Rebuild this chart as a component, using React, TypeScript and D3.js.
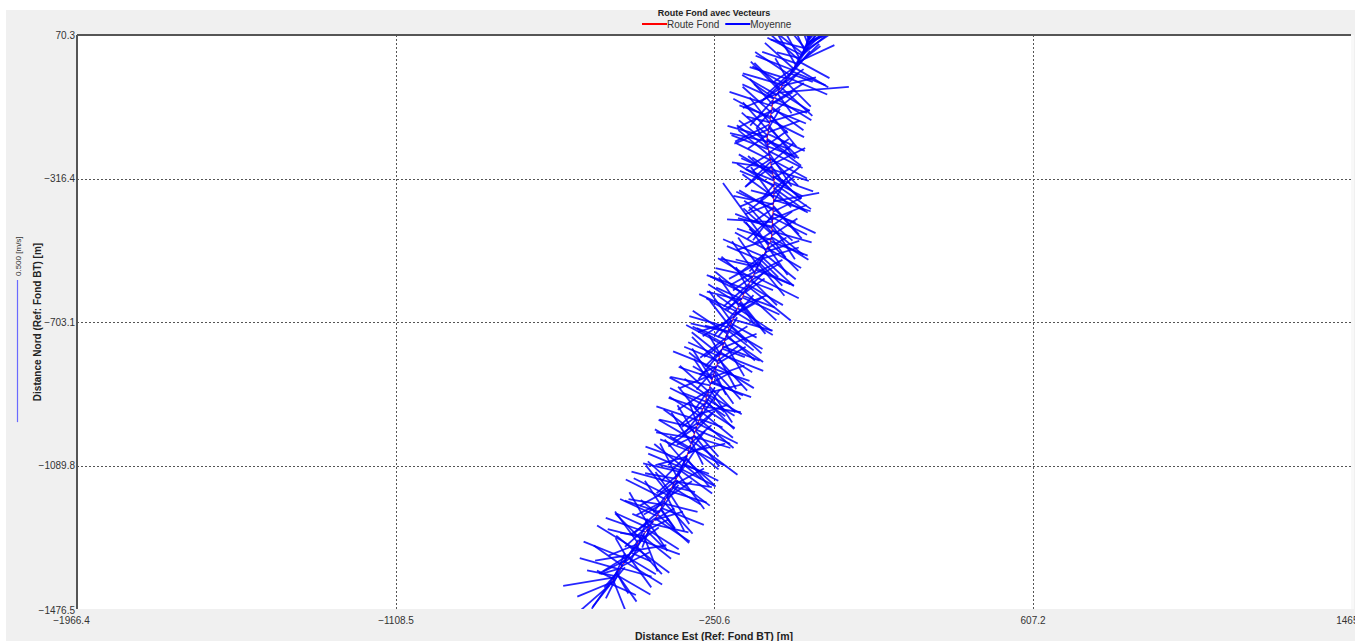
import React, { useRef, useEffect } from "react";
import * as d3 from "d3";

// tick values printed on the axes
const eastTicks = [-1966.4, -1108.5, -250.6, 607.2, 1465.0];
const northTicks = [70.3, -316.4, -703.1, -1089.8, -1476.5];

const chartTitle = "Route Fond avec Vecteurs";
const eastTitle = "Distance Est (Ref: Fond BT) [m]";
const northTitle = "Distance Nord (Ref: Fond BT) [m]";

const legendItems = [
  { label: "Route Fond", color: "#ff0000" },
  { label: "Moyenne", color: "#0000ff" },
];

// ensembles: [east m, north m, vEast m/s, vNorth m/s]
const southReach: number[][] = [
  [-532, -1412, -0.16, -0.14], [-527, -1405, -0.12, -0.05], [-522, -1399, 0.06, -0.15],
  [-519, -1391, -0.18, -0.03], [-514, -1384, 0.12, -0.07], [-511, -1376, -0.09, -0.13],
  [-505, -1370, -0.14, 0.04], [-501, -1362, 0.10, 0.05], [-496, -1356, -0.06, -0.12],
  [-490, -1349, 0.13, -0.08], [-487, -1341, -0.15, 0.06], [-481, -1334, 0.08, -0.11],
  [-476, -1328, -0.11, -0.07], [-471, -1320, 0.12, 0.02], [-466, -1313, -0.13, 0.08],
  [-460, -1306, 0.09, -0.10], [-456, -1298, -0.08, 0.11], [-450, -1291, 0.14, -0.05],
  [-445, -1284, -0.12, 0.03], [-441, -1276, 0.05, -0.13], [-435, -1269, -0.14, 0.05],
  [-430, -1262, 0.11, -0.07], [-425, -1254, -0.07, 0.12], [-419, -1247, 0.13, -0.03],
  [-414, -1240, -0.10, -0.09], [-408, -1233, 0.12, -0.08], [-404, -1226, -0.13, 0.06],
  [-400, -1218, 0.07, 0.10], [-397, -1211, -0.09, -0.08], [-393, -1204, 0.15, -0.06],
  [-389, -1196, -0.12, 0.02], [-385, -1189, 0.10, -0.11], [-381, -1181, -0.14, 0.07],
  [-377, -1174, 0.06, -0.12], [-373, -1166, -0.08, 0.10], [-370, -1159, 0.13, -0.04],
  [-366, -1152, -0.11, -0.06], [-362, -1144, 0.11, 0.06], [-358, -1137, -0.15, 0.04],
  [-354, -1129, 0.12, -0.09], [-350, -1122, -0.06, 0.12], [-346, -1115, 0.09, -0.12],
  [-342, -1107, -0.13, 0.03], [-338, -1100, 0.12, -0.06], [-335, -1093, -0.10, 0.08],
  [-331, -1085, 0.12, -0.06], [-328, -1077, -0.14, 0.05], [-325, -1070, 0.08, -0.10],
  [-323, -1062, -0.09, -0.09], [-320, -1054, 0.13, 0.03], [-318, -1046, -0.12, 0.07],
  [-315, -1039, 0.10, -0.08], [-312, -1031, -0.07, 0.11], [-310, -1023, 0.16, -0.12],
  [-307, -1016, -0.13, 0.02], [-305, -1008, 0.09, -0.11], [-302, -1000, -0.11, 0.08],
  [-299, -993, 0.12, -0.05], [-297, -985, -0.10, -0.07], [-294, -977, 0.14, -0.07],
  [-291, -969, -0.15, 0.05], [-289, -962, 0.07, 0.10], [-286, -954, -0.08, 0.10],
  [-284, -946, 0.11, -0.09], [-281, -938, -0.12, 0.04], [-278, -931, 0.13, -0.02],
  [-276, -923, -0.09, -0.08], [-273, -915, 0.10, -0.10],
];

const midReach: number[][] = [
  [-271, -906, -0.13, 0.07], [-268, -898, 0.12, -0.07], [-266, -890, -0.10, 0.09],
  [-263, -882, 0.08, -0.12], [-261, -874, -0.14, 0.03], [-258, -867, 0.14, -0.05],
  [-256, -859, -0.07, 0.11], [-253, -851, 0.11, 0.04], [-251, -843, -0.12, -0.05],
  [-248, -835, 0.09, -0.10], [-246, -828, -0.15, 0.06], [-243, -820, 0.13, -0.08],
  [-241, -812, -0.09, 0.09], [-238, -804, 0.10, -0.11], [-236, -796, -0.11, 0.05],
  [-233, -789, 0.15, -0.06], [-231, -781, -0.08, -0.10], [-228, -773, 0.12, 0.05],
  [-226, -765, -0.13, 0.07], [-223, -757, 0.07, -0.12], [-221, -750, -0.10, 0.04],
  [-218, -742, 0.13, -0.09], [-216, -734, -0.12, 0.08], [-213, -726, 0.09, -0.07],
  [-210, -718, -0.14, 0.04], [-207, -711, 0.11, -0.10], [-203, -703, -0.08, 0.11],
  [-200, -696, 0.14, -0.04], [-197, -688, -0.11, -0.07], [-194, -681, 0.10, 0.06],
  [-191, -674, -0.13, 0.06], [-187, -666, 0.12, -0.08], [-184, -659, -0.07, 0.10],
  [-181, -651, 0.09, -0.11], [-178, -644, -0.12, 0.03], [-174, -637, 0.13, -0.06],
  [-171, -629, -0.10, 0.08], [-167, -622, 0.11, -0.10], [-163, -615, -0.14, 0.05],
  [-159, -607, 0.15, -0.12], [-156, -600, -0.09, -0.08], [-152, -592, 0.10, 0.06],
  [-148, -585, -0.12, 0.07], [-145, -578, 0.16, -0.08], [-141, -570, -0.08, 0.11],
  [-137, -563, 0.12, -0.05], [-134, -555, -0.13, 0.03], [-130, -548, 0.09, -0.11],
  [-126, -541, -0.11, -0.06], [-122, -533, 0.13, 0.04], [-119, -526, -0.14, 0.06],
  [-115, -519, 0.11, -0.09], [-111, -511, -0.07, 0.10], [-108, -504, 0.12, -0.07],
  [-104, -497, -0.16, 0.22], [-100, -489, 0.10, -0.10], [-97, -482, -0.12, 0.04],
  [-96, -474, 0.13, -0.08], [-95, -466, -0.10, 0.09], [-95, -458, 0.14, -0.04],
  [-94, -450, -0.13, 0.05], [-94, -442, 0.08, -0.12], [-93, -434, -0.16, 0.01],
  [-93, -426, 0.12, 0.05], [-92, -418, -0.09, -0.08], [-92, -410, 0.15, -0.07],
  [-91, -402, -0.12, 0.07], [-91, -394, 0.10, -0.11], [-91, -386, -0.14, 0.03],
  [-90, -378, 0.16, 0.03], [-90, -370, -0.08, 0.11], [-90, -362, 0.12, -0.06],
  [-89, -354, -0.12, -0.05], [-89, -346, 0.09, 0.08], [-89, -338, -0.13, 0.08],
  [-89, -330, 0.13, -0.09], [-89, -322, -0.10, 0.04],
];

const northReach: number[][] = [
  [-91, -313, 0.14, -0.05], [-92, -305, -0.12, 0.07], [-94, -296, 0.10, -0.10],
  [-95, -288, -0.14, 0.02], [-97, -280, 0.12, 0.06], [-98, -271, -0.09, -0.09],
  [-100, -263, 0.13, -0.07], [-101, -255, -0.11, 0.09], [-103, -246, 0.08, -0.12],
  [-104, -238, -0.13, 0.05], [-106, -230, 0.11, -0.04], [-107, -221, -0.10, 0.08],
  [-108, -213, 0.12, -0.09], [-107, -205, -0.14, 0.04], [-106, -196, 0.13, -0.06],
  [-104, -188, -0.09, 0.10], [-103, -180, 0.10, -0.10], [-102, -171, -0.12, -0.06],
  [-100, -163, 0.14, 0.04], [-99, -155, -0.13, 0.07], [-98, -146, 0.09, -0.11],
  [-97, -138, -0.10, 0.09], [-95, -130, 0.12, -0.05], [-94, -121, -0.15, 0.05],
  [-93, -113, 0.11, 0.07], [-92, -105, -0.08, -0.09], [-88, -98, 0.13, -0.08],
  [-83, -91, -0.12, 0.07], [-79, -85, 0.25, 0.02], [-75, -78, -0.10, 0.10],
  [-70, -71, 0.11, -0.10], [-66, -64, -0.14, 0.04], [-61, -57, 0.09, 0.11],
  [-57, -51, -0.09, -0.08], [-53, -44, 0.14, -0.06], [-48, -37, -0.12, 0.08],
  [-44, -30, 0.10, 0.10], [-39, -24, -0.13, 0.05], [-35, -17, 0.12, -0.07],
  [-31, -10, -0.07, 0.12], [-26, -3, 0.13, 0.06], [-22, 3, -0.10, 0.09],
  [-18, 10, 0.08, 0.12], [-15, 17, -0.12, 0.06], [-11, 24, 0.12, 0.08],
  [-8, 31, -0.06, 0.13], [-4, 38, 0.10, 0.11], [-1, 45, 0.03, 0.14],
  [3, 52, 0.13, 0.05], [6, 59, -0.07, 0.12], [9, 66, 0.09, 0.13],
  [12, 73, -0.04, 0.10],
];

// the in-between ensembles (not on the bottom-track line list)
const southFill: number[][] = [
  [-530, -1408, 0.09, -0.04], [-524, -1402, -0.07, -0.09], [-521, -1395, 0.04, 0.09],
  [-516, -1388, -0.10, 0.02], [-513, -1380, 0.07, -0.10], [-508, -1373, -0.05, -0.06],
  [-503, -1366, 0.11, -0.03], [-498, -1359, -0.10, 0.07], [-493, -1352, 0.05, 0.08],
  [-488, -1345, -0.08, -0.04], [-484, -1337, 0.10, -0.06], [-479, -1331, -0.12, -0.02],
  [-473, -1324, 0.06, 0.07], [-468, -1317, -0.06, 0.05], [-463, -1310, 0.12, -0.09],
  [-458, -1302, -0.10, -0.04], [-453, -1295, 0.07, 0.05], [-448, -1288, -0.09, 0.09],
  [-443, -1280, 0.10, -0.08], [-438, -1272, -0.05, -0.10], [-433, -1265, 0.08, 0.04],
  [-428, -1258, -0.11, 0.05], [-422, -1251, 0.06, -0.09], [-417, -1243, -0.07, 0.03],
  [-411, -1237, 0.10, 0.03], [-406, -1230, -0.09, -0.06], [-402, -1222, 0.11, -0.10],
  [-399, -1215, -0.12, 0.04], [-395, -1207, 0.05, -0.07], [-391, -1200, -0.06, 0.09],
  [-387, -1192, 0.12, -0.03], [-383, -1185, -0.10, -0.05], [-379, -1178, 0.09, 0.06],
  [-375, -1170, -0.12, 0.06], [-371, -1163, 0.07, -0.11], [-368, -1155, -0.06, -0.08],
  [-364, -1148, 0.10, -0.06], [-360, -1140, -0.09, 0.08], [-356, -1133, 0.13, -0.02],
  [-352, -1126, -0.11, 0.02], [-348, -1118, 0.06, 0.09], [-344, -1111, -0.08, -0.07],
  [-340, -1104, 0.11, -0.08], [-336, -1096, -0.12, 0.05], [-333, -1089, 0.09, -0.03],
  [-330, -1081, -0.07, 0.08], [-327, -1073, 0.10, -0.09], [-324, -1066, -0.11, -0.03],
  [-321, -1058, 0.06, 0.08], [-319, -1050, -0.10, 0.04], [-316, -1043, 0.12, -0.06],
  [-313, -1035, -0.08, -0.07], [-311, -1027, 0.07, 0.06], [-308, -1020, -0.12, 0.07],
  [-306, -1012, 0.13, -0.04], [-303, -1004, -0.06, 0.10], [-300, -997, 0.08, -0.09],
  [-298, -989, -0.13, 0.03], [-295, -981, 0.06, 0.05], [-292, -973, -0.09, -0.06],
  [-290, -966, 0.12, -0.10], [-287, -958, -0.11, 0.07], [-285, -950, 0.09, 0.03],
  [-282, -942, -0.07, -0.09], [-279, -935, 0.11, -0.07], [-277, -927, -0.12, 0.06],
  [-274, -919, 0.07, -0.05],
];

const midFill: number[][] = [
  [-272, -910, 0.10, -0.06], [-269, -902, -0.08, 0.06], [-267, -894, 0.12, 0.03],
  [-264, -886, -0.11, -0.07], [-262, -878, 0.09, -0.09], [-259, -871, -0.06, 0.09],
  [-257, -863, 0.11, -0.05], [-254, -855, -0.12, 0.04], [-252, -847, 0.07, -0.10],
  [-249, -839, -0.09, 0.07], [-247, -831, 0.12, -0.04], [-244, -824, -0.07, -0.08],
  [-242, -816, 0.10, 0.06], [-239, -808, -0.12, 0.05], [-237, -800, 0.06, -0.11],
  [-234, -792, -0.10, 0.08], [-232, -785, 0.11, -0.07], [-229, -777, -0.06, -0.06],
  [-227, -769, 0.13, -0.05], [-224, -761, -0.11, 0.06], [-222, -753, 0.08, 0.05],
  [-219, -746, -0.09, -0.07], [-217, -738, 0.10, -0.09], [-214, -730, -0.13, 0.03],
  [-212, -722, 0.12, -0.07], [-208, -715, -0.07, 0.09], [-205, -707, 0.09, -0.05],
  [-202, -700, -0.12, -0.04], [-198, -692, 0.07, 0.08], [-195, -685, -0.10, 0.06],
  [-192, -677, 0.13, -0.08], [-189, -670, -0.08, -0.09], [-186, -662, 0.10, 0.04],
  [-182, -655, -0.11, 0.07], [-179, -648, 0.08, -0.10], [-176, -641, -0.09, 0.04],
  [-172, -633, 0.11, -0.04], [-169, -626, -0.12, 0.06], [-165, -618, 0.07, 0.07],
  [-161, -611, -0.07, -0.08], [-157, -604, 0.12, -0.07], [-154, -596, -0.10, 0.09],
  [-150, -589, 0.09, -0.09], [-147, -581, -0.13, 0.03], [-143, -574, 0.10, 0.05],
  [-139, -566, -0.09, -0.05], [-135, -559, 0.13, -0.06], [-132, -552, -0.07, 0.10],
  [-128, -544, 0.08, -0.08], [-124, -537, -0.12, 0.05], [-120, -530, 0.11, -0.10],
  [-117, -522, -0.08, -0.06], [-113, -515, 0.12, 0.04], [-110, -508, -0.11, 0.06],
  [-106, -500, 0.07, -0.10], [-102, -493, -0.09, 0.08], [-98, -486, 0.13, -0.05],
  [-96, -478, -0.12, -0.04], [-95, -470, 0.09, 0.06], [-95, -462, -0.08, 0.09],
  [-94, -454, 0.11, -0.09], [-94, -446, -0.12, 0.03], [-93, -438, 0.07, -0.06],
  [-93, -430, -0.10, 0.07], [-92, -422, 0.12, -0.06], [-92, -414, -0.07, -0.09],
  [-91, -406, 0.10, 0.05], [-91, -398, -0.13, 0.06], [-91, -390, 0.09, -0.10],
  [-90, -382, -0.10, -0.04], [-90, -374, 0.13, -0.04], [-90, -366, -0.11, 0.08],
  [-89, -358, 0.07, 0.06], [-89, -350, -0.09, -0.07], [-89, -342, 0.11, -0.08],
  [-89, -334, -0.12, 0.05], [-89, -326, 0.10, -0.05], [-90, -317, -0.09, 0.08],
];

const northFill: number[][] = [
  [-92, -309, 0.10, -0.08], [-93, -300, -0.11, 0.05], [-95, -292, 0.13, -0.04],
  [-96, -284, -0.09, -0.07], [-98, -275, 0.08, 0.07], [-99, -267, -0.12, 0.06],
  [-101, -259, 0.10, -0.10], [-102, -250, -0.08, -0.05], [-104, -242, 0.12, -0.06],
  [-105, -234, -0.11, 0.08], [-107, -226, 0.07, 0.05], [-108, -217, -0.13, 0.03],
  [-108, -209, 0.10, -0.07], [-107, -200, -0.09, 0.08], [-105, -192, 0.11, 0.04],
  [-104, -184, -0.12, -0.05], [-102, -175, 0.08, -0.10], [-101, -167, -0.07, 0.09],
  [-100, -159, 0.12, -0.06], [-98, -150, -0.11, 0.04], [-97, -142, 0.09, 0.07],
  [-96, -134, -0.12, -0.06], [-94, -125, 0.11, -0.08], [-93, -117, -0.08, 0.09],
  [-92, -109, 0.12, -0.04], [-90, -101, -0.11, 0.05], [-85, -94, 0.08, 0.08],
  [-81, -88, -0.12, -0.05], [-77, -81, 0.11, -0.07], [-73, -74, -0.09, 0.09],
  [-68, -67, 0.12, 0.03], [-63, -60, -0.11, 0.06], [-59, -54, 0.09, -0.09],
  [-55, -47, -0.13, 0.04], [-50, -40, 0.07, 0.10], [-46, -34, -0.08, -0.07],
  [-42, -27, 0.12, -0.05], [-37, -20, -0.10, 0.09], [-33, -13, 0.09, 0.07],
  [-29, -6, -0.12, 0.04], [-24, 0, 0.11, -0.06], [-20, 7, -0.06, 0.11],
  [-16, 14, 0.11, 0.09], [-13, 21, -0.10, 0.08], [-9, 28, 0.05, 0.12],
  [-6, 35, -0.12, 0.03], [-2, 42, 0.12, 0.07], [1, 49, -0.05, 0.13],
  [5, 56, 0.08, 0.11], [8, 63, -0.10, 0.07],
];

// short vectors crowding the middle of the band
const coreSouth: number[][] = [
  [-529, -1410, 0.05, 0.06], [-520, -1396, -0.06, 0.03], [-512, -1381, 0.04, -0.07],
  [-503, -1367, -0.07, -0.02], [-494, -1353, 0.06, 0.05], [-485, -1339, -0.04, 0.07],
  [-474, -1325, 0.07, -0.03], [-463, -1310, -0.05, -0.06], [-453, -1294, 0.03, 0.08],
  [-442, -1279, -0.08, 0.01], [-432, -1265, 0.06, -0.06], [-421, -1250, -0.03, -0.08],
  [-411, -1236, 0.07, 0.04], [-402, -1221, -0.06, 0.05], [-394, -1206, 0.05, -0.07],
  [-386, -1191, -0.07, -0.04], [-378, -1176, 0.04, 0.06], [-370, -1161, -0.05, 0.07],
  [-363, -1146, 0.08, -0.02], [-355, -1131, -0.06, -0.05], [-347, -1117, 0.03, 0.07],
  [-339, -1102, -0.08, 0.02], [-332, -1087, 0.06, -0.05], [-326, -1072, -0.04, -0.07],
  [-321, -1057, 0.07, 0.03], [-316, -1042, -0.07, 0.04], [-311, -1026, 0.04, -0.08],
  [-305, -1011, -0.06, -0.03], [-300, -995, 0.06, 0.06], [-295, -980, -0.03, 0.08],
  [-289, -964, 0.08, -0.03], [-284, -948, -0.07, -0.05], [-279, -933, 0.04, 0.07],
  [-274, -917, -0.08, 0.03],
];

const coreMid: number[][] = [
  [-269, -900, 0.06, -0.06], [-264, -885, -0.05, -0.07], [-259, -869, 0.07, 0.04],
  [-254, -853, -0.07, 0.04], [-249, -838, 0.04, -0.08], [-244, -822, -0.06, -0.03],
  [-239, -806, 0.07, 0.05], [-234, -791, -0.04, 0.07], [-229, -775, 0.08, -0.03],
  [-224, -759, -0.07, -0.05], [-219, -744, 0.04, 0.07], [-214, -728, -0.08, 0.02],
  [-208, -713, 0.06, -0.06], [-202, -698, -0.05, -0.06], [-195, -684, 0.07, 0.04],
  [-189, -669, -0.07, 0.05], [-182, -653, 0.05, -0.07], [-175, -639, -0.06, -0.04],
  [-168, -624, 0.07, 0.05], [-161, -609, -0.04, 0.07], [-153, -594, 0.08, -0.03],
  [-146, -580, -0.07, -0.05], [-139, -565, 0.04, 0.07], [-131, -550, -0.08, 0.02],
  [-124, -536, 0.06, -0.06], [-117, -521, -0.05, -0.06], [-109, -506, 0.07, 0.04],
  [-102, -491, -0.07, 0.05], [-96, -476, 0.05, -0.07], [-95, -460, -0.06, -0.04],
  [-94, -444, 0.07, 0.05], [-93, -428, -0.04, 0.07], [-92, -412, 0.08, -0.03],
  [-91, -396, -0.07, -0.05], [-90, -380, 0.04, 0.07], [-90, -364, -0.08, 0.02],
  [-89, -348, 0.06, -0.06], [-89, -332, -0.05, -0.06],
];

const coreNorth: number[][] = [
  [-91, -315, 0.07, 0.04], [-94, -298, -0.07, 0.05], [-97, -282, 0.05, -0.07],
  [-100, -265, -0.06, -0.04], [-103, -248, 0.07, 0.05], [-106, -232, -0.04, 0.07],
  [-108, -215, 0.08, -0.03], [-106, -198, -0.07, -0.05], [-104, -182, 0.04, 0.07],
  [-101, -165, -0.08, 0.02], [-98, -148, 0.06, -0.06], [-96, -132, -0.05, -0.06],
  [-93, -115, 0.07, 0.04], [-89, -100, -0.07, 0.05], [-80, -87, 0.05, -0.07],
  [-72, -73, -0.06, -0.04], [-63, -60, 0.07, 0.05], [-55, -46, -0.04, 0.07],
  [-46, -33, 0.08, -0.03], [-37, -19, -0.07, -0.05], [-28, -5, 0.04, 0.07],
  [-20, 8, -0.08, 0.02], [-13, 21, 0.06, 0.06], [-6, 35, -0.05, 0.06],
  [1, 48, 0.07, 0.04], [7, 61, -0.03, 0.08],
];

const vectorScale = 766; // map metres drawn per 1 m/s
const scaleBarSpeed = 0.5;

const W = 1355;
const H = 641;
const plot = { left: 77, top: 35, right: 1351, bottom: 609 };
const labelFont = "'Liberation Sans Narrow', 'Liberation Sans', Arial, sans-serif";

export default function App() {
  const svgRef = useRef<SVGSVGElement>(null);

  useEffect(() => {
    document.body.style.margin = "0";
    const svg = d3.select(svgRef.current);
    svg.selectAll("*").remove();

    const trackEnsembles = [...southReach, ...midReach, ...northReach];
    const ensembles = [
      ...trackEnsembles, ...southFill, ...midFill, ...northFill,
      ...coreSouth, ...coreMid, ...coreNorth,
    ];

    const x = d3.scaleLinear().domain([eastTicks[0], eastTicks[eastTicks.length - 1]]).range([plot.left, plot.right]);
    const y = d3.scaleLinear().domain([northTicks[northTicks.length - 1], northTicks[0]]).range([plot.bottom, plot.top]);

    // window background
    svg.append("rect").attr("x", 0).attr("y", 0).attr("width", W).attr("height", H).attr("fill", "#ffffff");
    svg.append("rect").attr("x", 6).attr("y", 10).attr("width", W - 6).attr("height", H - 10).attr("fill", "#f0f0f0");
    svg.append("rect")
      .attr("x", plot.left).attr("y", plot.top)
      .attr("width", plot.right - plot.left).attr("height", plot.bottom - plot.top)
      .attr("fill", "#ffffff");
    svg.append("rect")
      .attr("x", plot.right).attr("y", plot.top)
      .attr("width", 3).attr("height", plot.bottom - plot.top)
      .attr("fill", "#f8f8f8");

    svg.append("clipPath").attr("id", "plot-clip")
      .append("rect")
      .attr("x", plot.left).attr("y", plot.top)
      .attr("width", plot.right - plot.left).attr("height", plot.bottom - plot.top);

    // dotted grid
    const grid = svg.append("g").attr("stroke", "#555").attr("stroke-width", 1).attr("stroke-dasharray", "2,2");
    grid.selectAll(".vgrid")
      .data(eastTicks.slice(1, -1))
      .enter().append("line")
      .attr("x1", d => Math.round(x(d)) + 0.5).attr("x2", d => Math.round(x(d)) + 0.5)
      .attr("y1", plot.top).attr("y2", plot.bottom);
    grid.selectAll(".hgrid")
      .data(northTicks.slice(1, -1))
      .enter().append("line")
      .attr("y1", d => Math.round(y(d)) + 0.5).attr("y2", d => Math.round(y(d)) + 0.5)
      .attr("x1", plot.left).attr("x2", plot.right);

    const g = svg.append("g").attr("clip-path", "url(#plot-clip)");

    // bottom track (red), under the vectors
    const track = d3.line<number[]>().x(d => x(d[0])).y(d => y(d[1]));
    g.append("path")
      .datum(trackEnsembles)
      .attr("d", track)
      .attr("fill", "none")
      .attr("stroke", "#ff0000")
      .attr("stroke-width", 1);

    // depth-averaged velocity vectors
    g.selectAll(".vec")
      .data(ensembles)
      .enter().append("line")
      .attr("class", "vec")
      .attr("x1", d => x(d[0]))
      .attr("y1", d => y(d[1]))
      .attr("x2", d => x(d[0] + d[2] * vectorScale))
      .attr("y2", d => y(d[1] + d[3] * vectorScale))
      .attr("stroke", "#0000ff")
      .attr("stroke-opacity", 0.85)
      .attr("stroke-width", 1.8);

    // frame lines
    svg.append("line")
      .attr("x1", plot.left).attr("x2", plot.right)
      .attr("y1", plot.top).attr("y2", plot.top)
      .attr("stroke", "#555").attr("stroke-width", 2);
    svg.append("line")
      .attr("x1", plot.left).attr("x2", plot.left)
      .attr("y1", plot.top).attr("y2", plot.bottom)
      .attr("stroke", "#555").attr("stroke-width", 2);

    // axes labels
    const xAxis = d3.axisBottom(x).tickValues(eastTicks).tickSize(0).tickPadding(8)
      .tickFormat(d => d3.format(".1f")(d as number));
    const xg = svg.append("g").attr("transform", `translate(0,${plot.bottom})`).call(xAxis);
    xg.select(".domain").remove();
    xg.selectAll("text").attr("font-family", labelFont).attr("font-size", 10).attr("fill", "#333");
    xg.selectAll(".tick").filter((d: any) => d === eastTicks[0])
      .select("text").attr("dx", "-6");

    const yAxis = d3.axisLeft(y).tickValues(northTicks).tickSize(0).tickPadding(2)
      .tickFormat(d => d3.format(".1f")(d as number));
    const yg = svg.append("g").attr("transform", `translate(${plot.left},0)`).call(yAxis);
    yg.select(".domain").remove();
    yg.selectAll("text").attr("font-family", labelFont).attr("font-size", 10).attr("fill", "#333");
    yg.selectAll(".tick").filter((d: any) => d === northTicks[northTicks.length - 1])
      .select("text").attr("dy", "0.45em");

    // titles
    svg.append("text")
      .attr("x", (plot.left + plot.right) / 2).attr("y", 16)
      .attr("text-anchor", "middle")
      .attr("font-family", labelFont).attr("font-size", 9).attr("font-weight", "bold")
      .attr("fill", "#222")
      .text(chartTitle);

    svg.append("text")
      .attr("x", (plot.left + plot.right) / 2).attr("y", 640)
      .attr("text-anchor", "middle")
      .attr("font-family", "'Liberation Sans', Arial, sans-serif").attr("font-size", 10.5).attr("font-weight", "bold")
      .attr("fill", "#222")
      .text(eastTitle);

    svg.append("text")
      .attr("transform", `translate(41,${(plot.top + plot.bottom) / 2}) rotate(-90)`)
      .attr("text-anchor", "middle")
      .attr("font-family", "'Liberation Sans', Arial, sans-serif").attr("font-size", 10).attr("font-weight", "bold")
      .attr("fill", "#222")
      .text(northTitle);

    // legend
    const legend = svg.append("g").attr("transform", "translate(642,24)");
    let lx = 0;
    legendItems.forEach(item => {
      legend.append("line")
        .attr("x1", lx).attr("x2", lx + 25).attr("y1", 0).attr("y2", 0)
        .attr("stroke", item.color).attr("stroke-width", 2);
      const t = legend.append("text")
        .attr("x", lx + 25).attr("y", 3.5)
        .attr("font-family", labelFont).attr("font-size", 10).attr("fill", "#333")
        .text(item.label);
      lx += 25 + (t.node() as SVGTextElement).getComputedTextLength() + 6;
    });

    // vector scale bar
    const barLen = y(0) - y(scaleBarSpeed * vectorScale);
    const barTop = 280;
    svg.append("line")
      .attr("x1", 17.5).attr("x2", 17.5)
      .attr("y1", barTop).attr("y2", barTop + barLen)
      .attr("stroke", "#6a6aff").attr("stroke-width", 1.2);
    svg.append("text")
      .attr("transform", `translate(21,${barTop - 4}) rotate(-90)`)
      .attr("font-family", labelFont).attr("font-size", 8).attr("fill", "#333")
      .text(`${d3.format(".3f")(scaleBarSpeed)} [m/s]`);
  }, []);

  return <svg ref={svgRef} width={W} height={H} style={{ display: "block" }} />;
}
